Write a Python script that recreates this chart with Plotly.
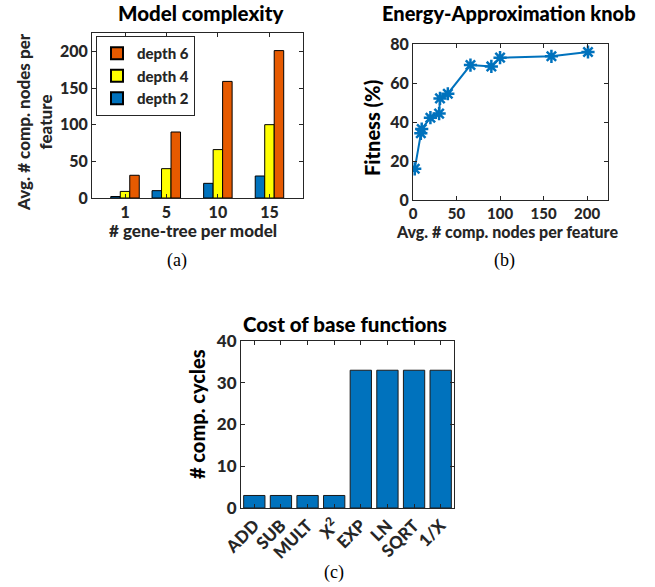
import plotly.graph_objects as go

W, H = 655, 587

# ---- data ----
trees = [1, 5, 10, 15]
depth2 = [2, 10, 20, 30]
depth4 = [9, 40, 66, 100]
depth6 = [31, 90, 159, 201]

nodes = [2, 9, 10, 20, 30, 31, 40, 66, 90, 100, 159, 201]
fitness = [16.0, 34.2, 36.4, 42.2, 44.3, 52.1, 54.5, 69.2, 68.5, 73.0, 73.7, 75.9]

funcs = ["ADD", "SUB", "MULT", "X<sup>2</sup>", "EXP", "LN", "SQRT", "1/X"]
cycles = [3, 3, 3, 3, 33, 33, 33, 33]

BLUE = "#0072BD"
YELLOW = "#FFFF00"
ORANGE = "#E65A00"
AX = "#262626"
FONT = "Lato"
WT = 900


def px(x):
    return x / W


def py(y):
    return 1 - y / H


fig = go.Figure()

for name, vals, col in [("depth 2", depth2, BLUE), ("depth 4", depth4, YELLOW), ("depth 6", depth6, ORANGE)]:
    fig.add_trace(go.Bar(x=trees, y=vals, name=name, marker=dict(color=col, line=dict(color="black", width=1)),
                         xaxis="x", yaxis="y", showlegend=True))

fig.add_trace(go.Scatter(x=nodes, y=fitness, mode="lines+markers", xaxis="x2", yaxis="y2", showlegend=False,
                         line=dict(color=BLUE, width=2),
                         marker=dict(symbol="asterisk", size=11, color=BLUE, line=dict(color=BLUE, width=2.5))))

fig.add_trace(go.Bar(x=list(range(1, 9)), y=cycles, xaxis="x3", yaxis="y3", showlegend=False,
                     width=0.8, marker=dict(color=BLUE, line=dict(color="#1a1a1a", width=1))))

common = dict(showline=True, linecolor=AX, linewidth=1, mirror="allticks", ticks="inside", ticklen=4,
              tickcolor=AX, showgrid=False, zeroline=False, automargin=False,
              tickfont=dict(family=FONT, size=16, color=AX, weight=WT))

fig.update_layout(
    template="none",
    width=W, height=H, margin=dict(l=0, r=0, t=0, b=0, autoexpand=False),
    paper_bgcolor="white", plot_bgcolor="white",
    barmode="group", bargap=0.31, bargroupgap=0,
    showlegend=True,
    legend=dict(x=px(96), y=py(36), xanchor="left", yanchor="top", traceorder="reversed",
                bordercolor=AX, borderwidth=1, bgcolor="white",
                font=dict(family=FONT, size=15, color=AX, weight=WT),
                itemsizing="constant", tracegroupgap=0),
    xaxis=dict(domain=[px(92), px(303)], range=[-2.2, 18.25], tickvals=trees, anchor="y", **common),
    yaxis=dict(domain=[py(198), py(33)], range=[0, 225], tickvals=[0, 50, 100, 150, 200], anchor="x", **common),
    xaxis2=dict(domain=[px(413), px(608)], range=[0, 224], tickvals=[0, 50, 100, 150, 200], anchor="y2",
                **{**common, "tickfont": dict(family=FONT, size=15, color=AX, weight=WT)}),
    yaxis2=dict(domain=[py(200), py(44)], range=[0, 80], tickvals=[0, 20, 40, 60, 80], anchor="x2", **common),
    xaxis3=dict(domain=[px(241), px(454)], range=[0.5, 8.5], tickvals=list(range(1, 9)), ticktext=funcs,
                tickangle=-45, anchor="y3", **{**common, "tickfont": dict(family=FONT, size=17, color=AX, weight=WT)}),
    yaxis3=dict(domain=[py(508), py(341)], range=[0, 40], tickvals=[0, 10, 20, 30, 40], anchor="x3",
                **{**common, "tickfont": dict(family=FONT, size=17, color=AX, weight=WT)}),
)

anns = [
    # titles
    dict(text="Model complexity", x=px(200), y=py(13), size=20.5, color="black"),
    dict(text="Energy-Approximation knob", x=px(509), y=py(13), size=20, color="black"),
    dict(text="Cost of base functions", x=px(345), y=py(324), size=20.5, color="black"),
    # axis labels
    dict(text="# gene-tree per model", x=px(193), y=py(231), size=17, color=AX),
    dict(text="Avg. # comp. nodes per feature", x=px(507), y=py(232), size=16, color=AX),
    dict(text="Avg. # comp. nodes per<br>feature", x=px(35), y=py(122), size=17, color=AX, angle=-90),
    dict(text="Fitness (%)", x=px(372), y=py(128), size=20, color="black", angle=-90),
    dict(text="# comp. cycles", x=px(197), y=py(414), size=20, color="black", angle=-90),
]
for a in anns:
    fig.add_annotation(text=a["text"], x=a["x"], y=a["y"], xref="paper", yref="paper", showarrow=False,
                       xanchor="center", yanchor="middle", textangle=a.get("angle", 0),
                       font=dict(family=FONT, size=a["size"], color=a["color"], weight=WT))

for t, x, y in [("(a)", 177, 260), ("(b)", 505, 260), ("(c)", 334, 572)]:
    fig.add_annotation(text=t, x=px(x), y=py(y), xref="paper", yref="paper", showarrow=False,
                       xanchor="center", yanchor="middle",
                       font=dict(family="Liberation Serif", size=18, color="black"))

fig.write_html("out.html", config={"displayModeBar": False},
               post_script="document.body.style.margin='0';document.body.style.overflow='hidden';")
